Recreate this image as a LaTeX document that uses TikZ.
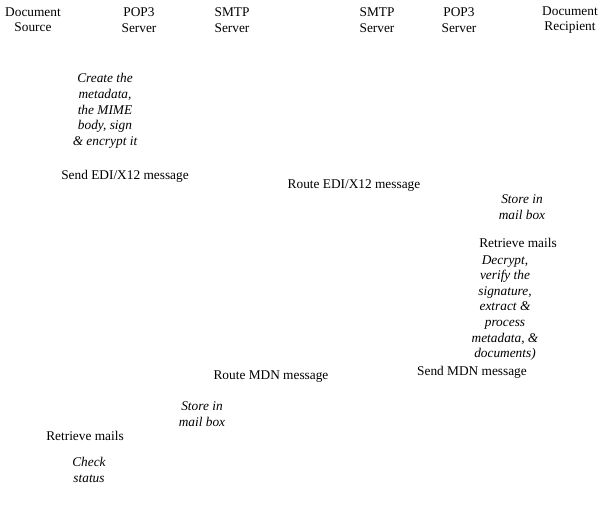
\documentclass[tikz,border=0pt]{standalone}
\usepackage{fontspec}
\setmainfont{Liberation Serif}
\usepackage{tikz}
\usetikzlibrary{positioning}

\begin{document}
\begin{tikzpicture}[
  x=0.75pt, y=-0.75pt,
  font=\fontsize{10}{11.5}\selectfont,
  party/.style={align=center, inner sep=0pt},
  act/.style={align=center, inner sep=0pt, font=\fontsize{10}{11.7}\selectfont\itshape},
  msg/.style={inner sep=0pt}
]
\useasboundingbox (0,0) rectangle (603,509);

% ---------- participants ----------
\node[party] (src)   at (33,20)  {Document\\Source};
\node[party] (popa)  at (139,20) {POP3\\Server};
\node[party] (smtpa) at (232,20) {SMTP\\Server};
\node[party] (smtpb) at (377,20) {SMTP\\Server};
\node[party] (popb)  at (459,20) {POP3\\Server};
\node[party] (rcp)   at (570,20) {Document\\Recipient};

% ---------- sending side ----------
\node[act] (create) at (105,111) {Create the\\metadata,\\the MIME\\body, sign\\\& encrypt it};
\node[msg] (send)   at (125,176) {Send EDI/X12 message};
\node[msg] (route)  at (354,186) {Route EDI/X12 message};

% ---------- receiving side ----------
\node[act] (store)  at (522,207) {Store in\\mail box};
\node[msg] (fetch)  at (518,243) {Retrieve mails};
\node[act] (proc)   at (505,308) {Decrypt,\\verify the\\signature,\\extract \&\\process\\metadata, \&\\documents)};
\node[msg] (mdn)    at (472,372) {Send MDN message};
\node[msg] (rmdn)   at (271,377) {Route MDN message};

% ---------- back at the source ----------
\node[act] (storeb) at (202,414) {Store in\\mail box};
\node[msg] (fetchb) at (85,436)  {Retrieve mails};
\node[act] (check)  at (89,470)  {Check\\status};

\end{tikzpicture}
\end{document}
